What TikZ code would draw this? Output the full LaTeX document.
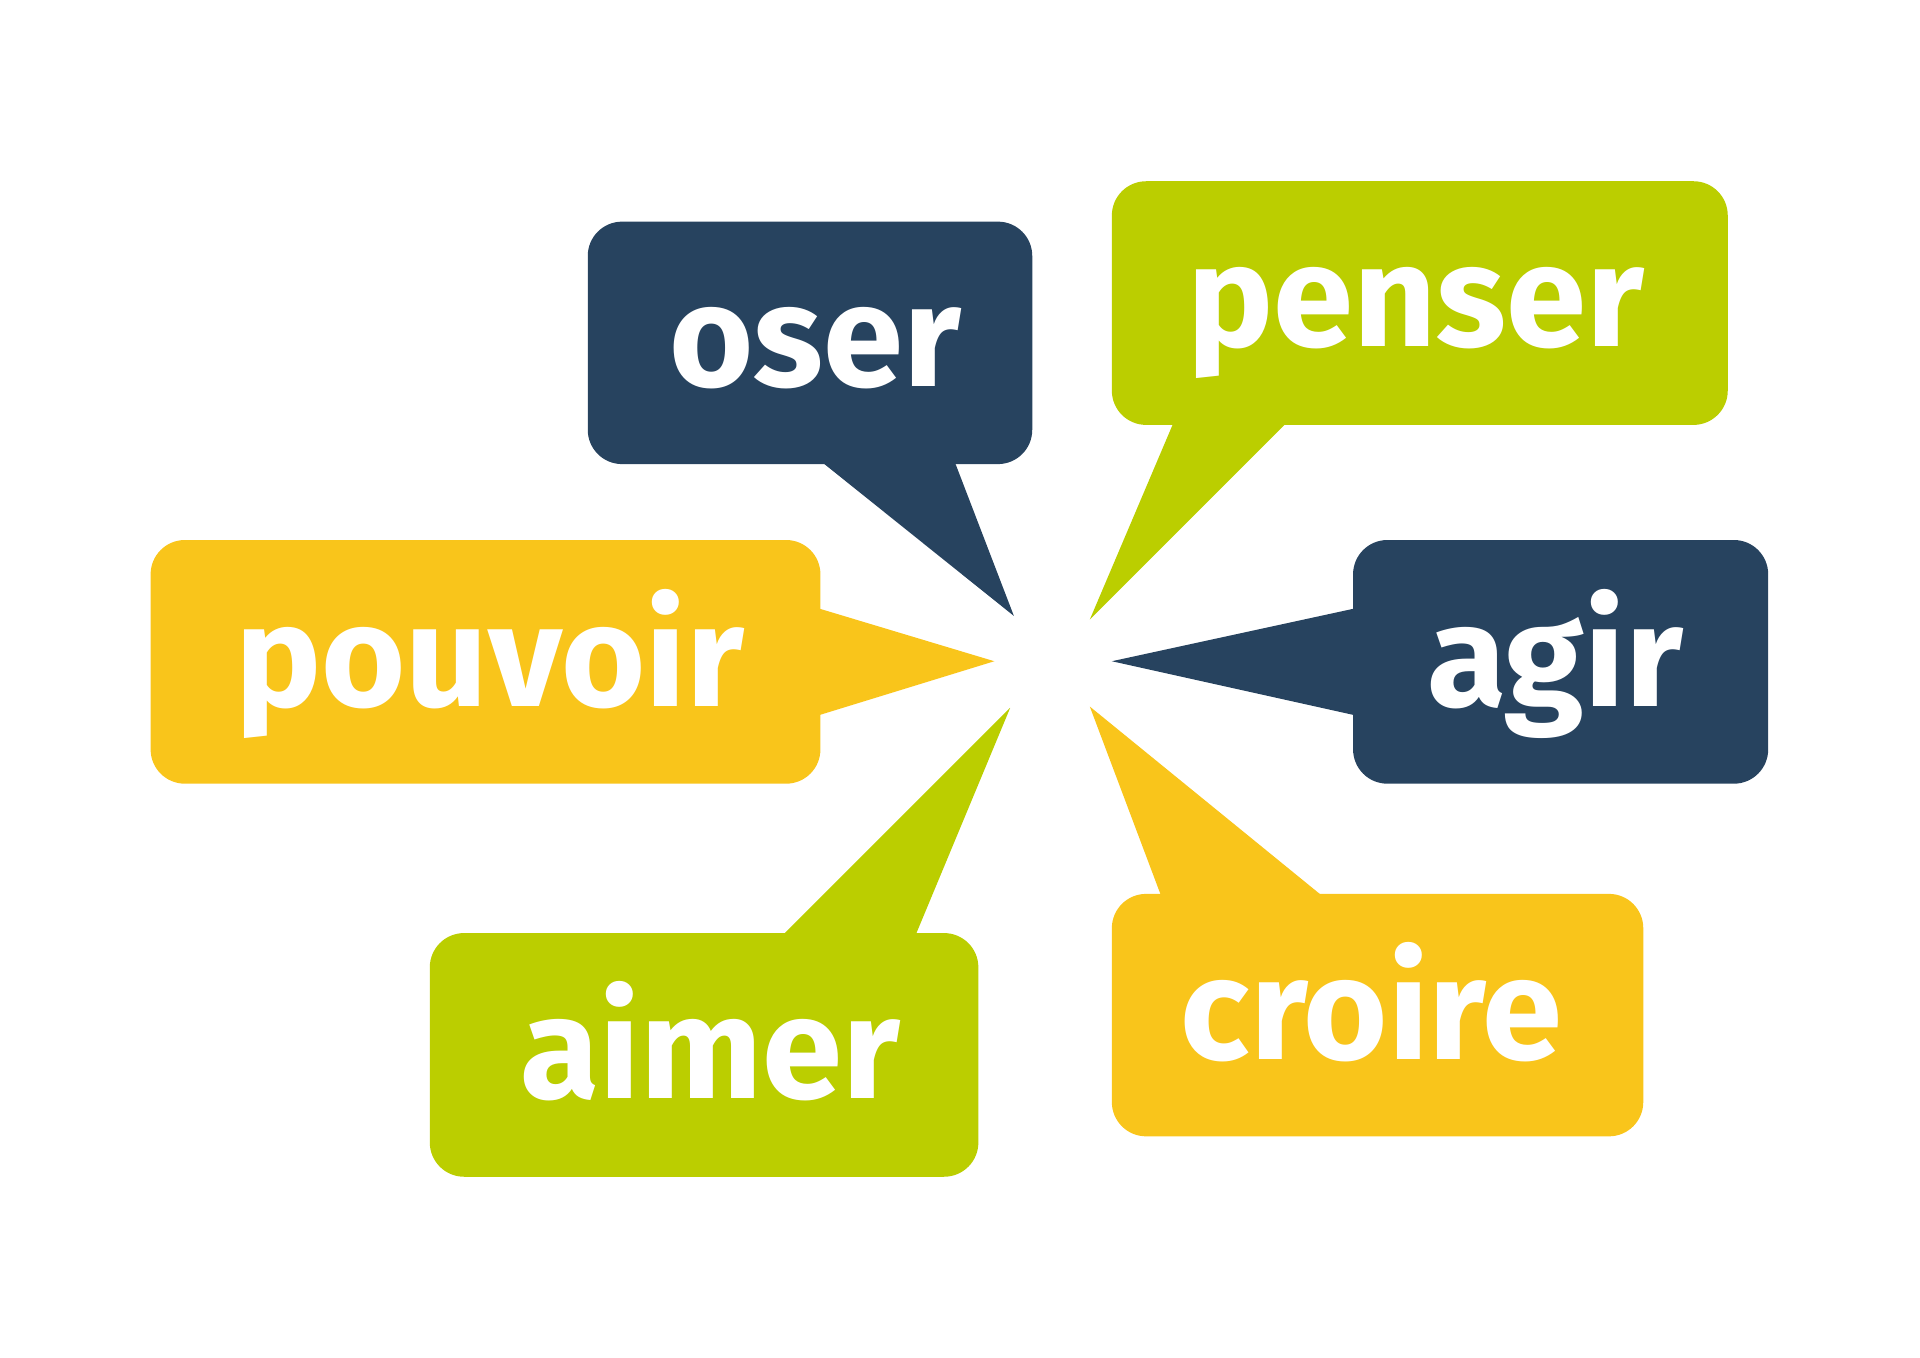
\documentclass[tikz,border=0pt]{standalone}
\usepackage{fontspec}
\setsansfont{Fira Sans}
\definecolor{navy}{HTML}{27435F}
\definecolor{lime}{HTML}{BBCE00}
\definecolor{gold}{HTML}{F9C51B}
\begin{document}
\begin{tikzpicture}[x=1pt,y=-1pt,
  bub/.style={rounded corners=28pt},
  word/.style={text=white,anchor=base,font=\sffamily\bfseries\fontsize{118}{118}\selectfont,inner sep=0pt}]
\useasboundingbox (0,0) rectangle (1568,1109);
% oser
\fill[navy,bub] (480,181) rectangle (843,379);
\fill[navy] (672,378) -- (828,503) -- (780,378) -- cycle;
\node[word] (oser) at (666,316) {oser};
% penser
\fill[lime,bub] (908,148) rectangle (1411,347);
\fill[lime] (958,346) -- (890,506) -- (1050,346) -- cycle;
\node[word] (penser) at (1156,283) {penser};
% pouvoir
\fill[gold,bub] (123,441) rectangle (670,640);
\fill[gold] (669,497) -- (812,540) -- (669,584) -- cycle;
\node[word] (pouvoir) at (400,577) {pouvoir};
% agir
\fill[navy,bub] (1105,441) rectangle (1444,640);
\fill[navy] (1106,497) -- (908,540) -- (1106,584) -- cycle;
\node[word] (agir) at (1270,577) {agir};
% aimer
\fill[lime,bub] (351,762) rectangle (799,961);
\fill[lime] (640,763) -- (825,578) -- (748,763) -- cycle;
\node[word] (aimer) at (580,897) {aimer};
% croire
\fill[gold,bub] (908,730) rectangle (1342,928);
\fill[gold] (948,731) -- (890,577) -- (1079,731) -- cycle;
\node[word] (croire) at (1120,865) {croire};
\end{tikzpicture}
\end{document}
